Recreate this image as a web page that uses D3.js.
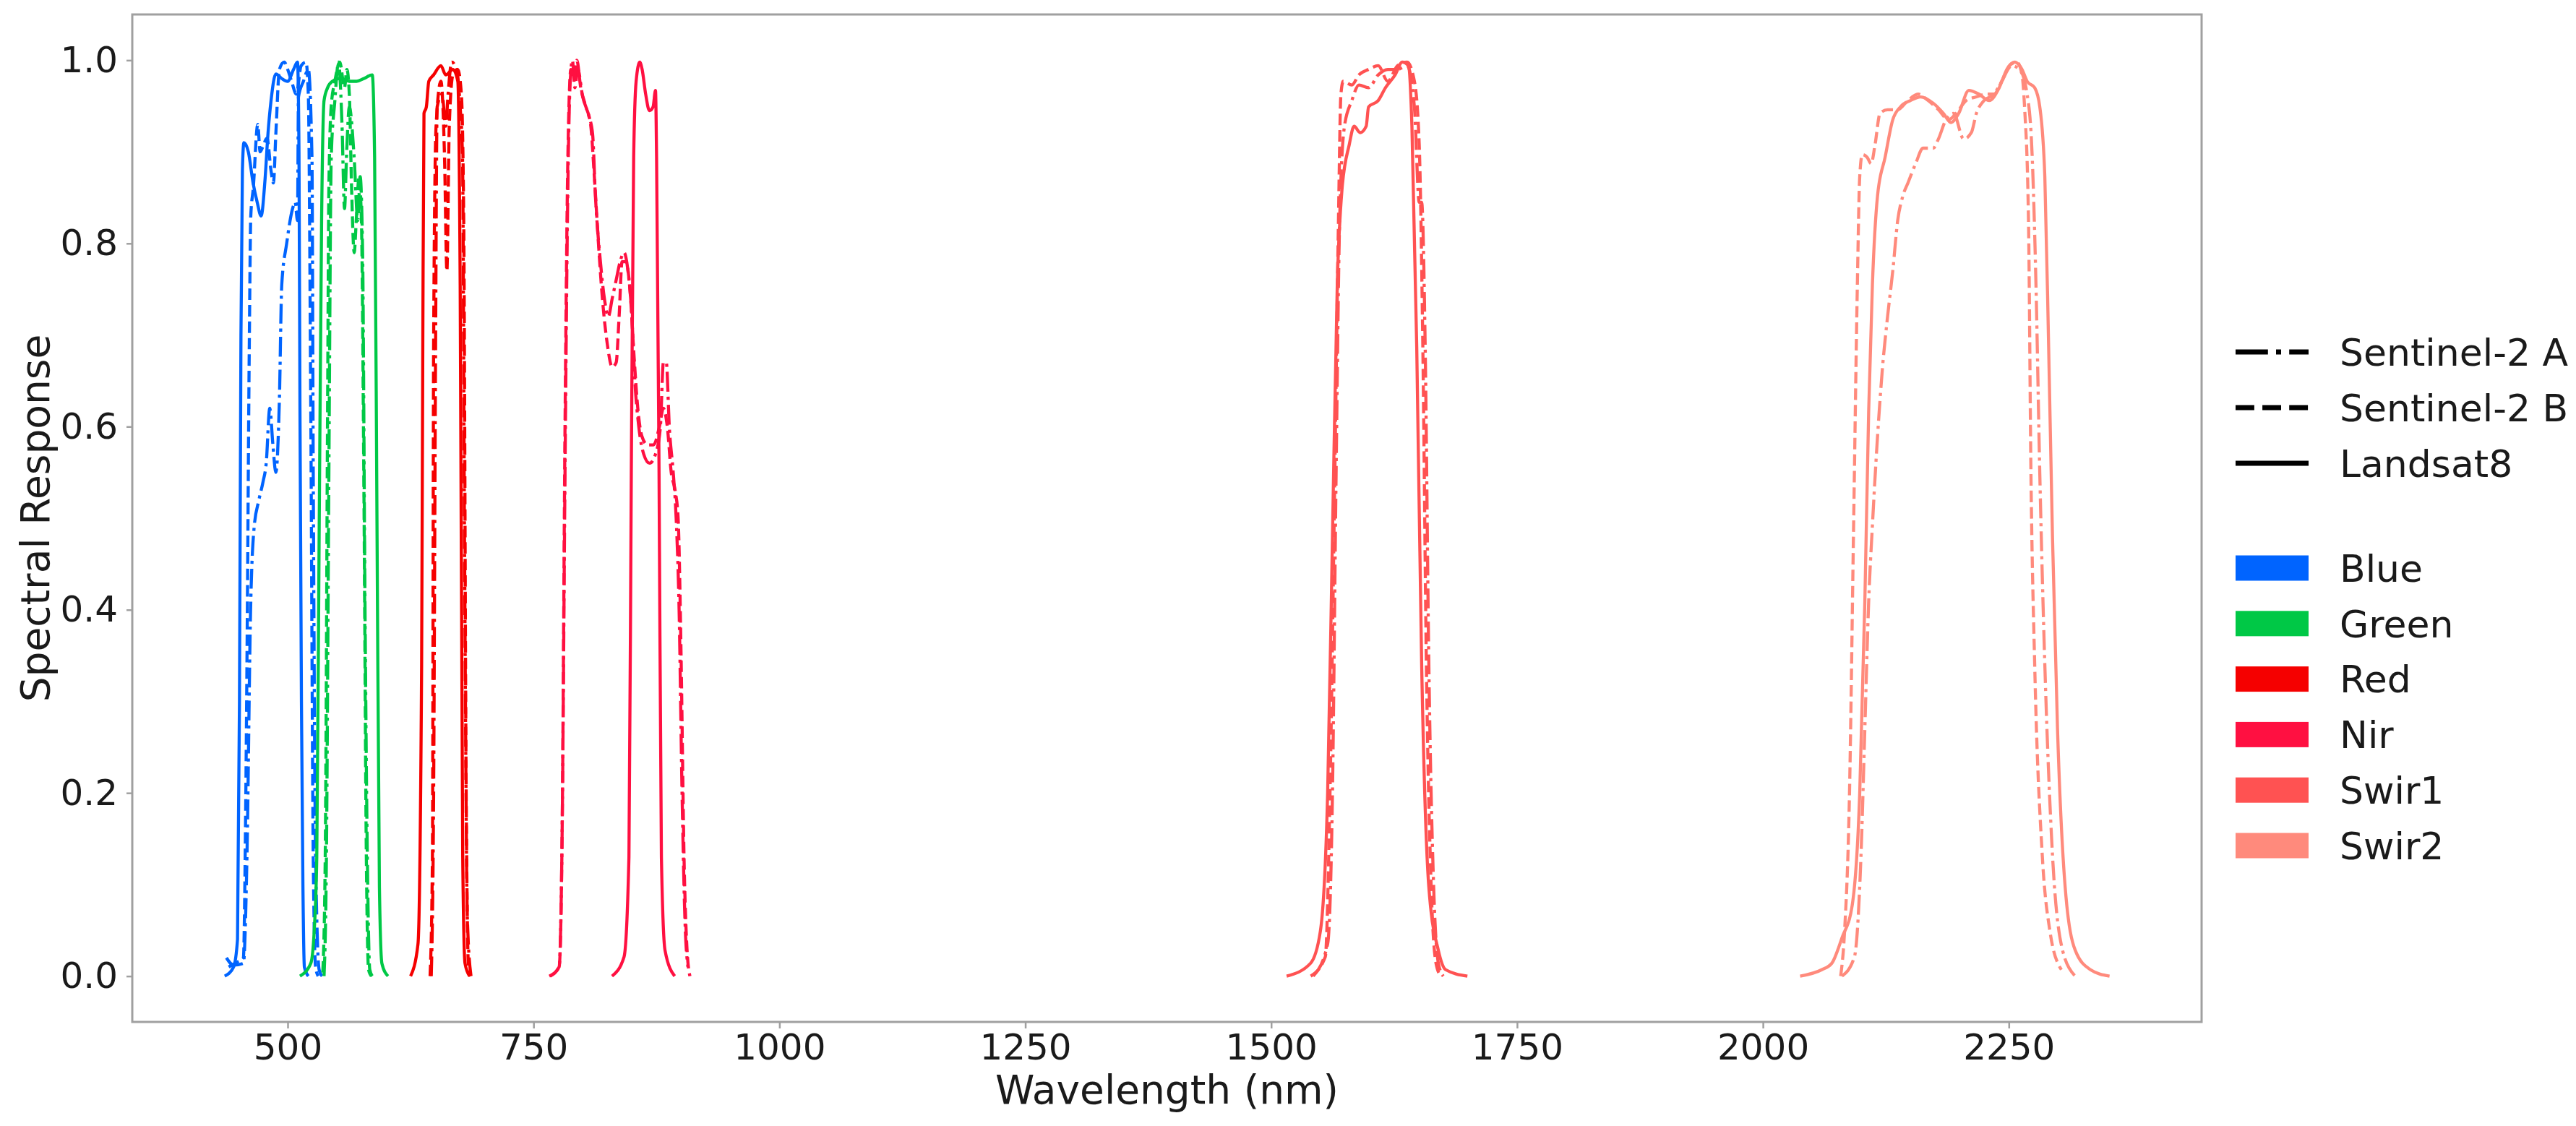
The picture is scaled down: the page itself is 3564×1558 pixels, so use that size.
<!DOCTYPE html>
<html>
<head>
<meta charset="utf-8">
<script src="https://cdn.jsdelivr.net/npm/d3@7/dist/d3.min.js"></script>
<style>
  html, body { margin: 0; padding: 0; background: #ffffff; }
  svg { display: block; }
</style>
</head>
<body>
<div id="chart"></div>
<script>
// ---------------- DATA (wavelength nm, response) ----------------
const bands = ["Blue", "Green", "Red", "Nir", "Swir1", "Swir2"];
const bandColors = ["#0064ff", "#00c846", "#f50000", "#ff1041", "#ff5252", "#ff8a7c"];
const sensors = ["Sentinel-2 A", "Sentinel-2 B", "Landsat8"];
const xTicks = [500, 750, 1000, 1250, 1500, 1750, 2000, 2250];
const yTicks = [0.0, 0.2, 0.4, 0.6, 0.8, 1.0];

// Blue
const blueS2A = [[437.7,0.02],[445,0.012],[455,0.014],[458.6,0.13],[462.2,0.395],[465.9,0.49],[470.8,0.52],[475,0.54],[478.2,0.56],[481.8,0.62],[485,0.58],[488,0.55],[491.6,0.63],[494,0.755],[499,0.8],[505,0.838],[507.6,0.845],[510,0.825],[511,0.96],[516,0.977],[521,0.99],[524.7,0.894],[526,0.55],[528.4,0.13],[532,0.007],[535,0]];
const blueS2B = [[440,0.01],[448,0.015],[455,0.02],[457,0.15],[458.6,0.34],[461,0.69],[462.5,0.83],[465,0.86],[469.6,0.93],[472,0.9],[474.5,0.905],[479,0.915],[483,0.88],[485.5,0.866],[488,0.92],[491.6,0.99],[496.5,0.998],[500,0.99],[504,0.977],[508.8,0.963],[513.7,0.994],[518.6,0.998],[521,0.963],[523.5,0.62],[526,0.13],[528.4,0.01],[531,0]];
const blueL8  = [[436,0],[445,0.01],[449,0.04],[451,0.3],[452.5,0.7],[454,0.88],[455.5,0.91],[460,0.9],[465,0.865],[469,0.845],[473,0.83],[477,0.87],[480,0.92],[483,0.955],[488,0.985],[494,0.98],[500,0.977],[506,0.99],[510,0.998],[511.5,0.9],[512.5,0.62],[514,0.3],[515.5,0.1],[517,0.01],[521,0]];
// Green
const greenS2A = [[537,0],[539.4,0.13],[541.9,0.55],[544.3,0.894],[548,0.956],[551.7,0.998],[555.3,0.928],[557.8,0.838],[560,0.9],[562.7,0.949],[567.6,0.894],[571.3,0.825],[573.7,0.873],[576.2,0.79],[578.6,0.41],[581,0.13],[583.5,0.007],[586,0]];
const greenS2B = [[535.7,0.004],[538.2,0.13],[540.6,0.62],[541.9,0.86],[544.3,0.95],[548,0.977],[553,0.998],[557.8,0.97],[560.2,0.99],[562.7,0.963],[565,0.86],[567.6,0.79],[570,0.83],[572.5,0.873],[575,0.825],[577.4,0.55],[580,0.13],[582.3,0.007],[585,0]];
const greenL8  = [[512.5,0],[523.5,0.014],[527,0.05],[529.6,0.13],[532,0.48],[534.5,0.825],[537,0.956],[540.6,0.97],[545.5,0.977],[553,0.98],[562.7,0.977],[570,0.977],[577.4,0.98],[586,0.984],[588.4,0.894],[590.9,0.48],[593.3,0.097],[595.8,0.014],[602,0]];
// Red
const redS2A = [[646,0],[648.4,0.2],[650.4,0.69],[652,0.949],[657,0.963],[660.7,0.928],[663.1,0.963],[666.8,0.998],[671.7,0.99],[675.4,0.949],[677.8,0.894],[679.8,0.48],[682.7,0.063],[686.4,0]];
const redS2B = [[644.8,0],[647.2,0.13],[648.4,0.69],[650.9,0.928],[655.8,0.977],[659.5,0.894],[661.9,0.77],[664.3,0.928],[668,0.984],[673,0.99],[676.6,0.963],[679,0.825],[681.5,0.2],[684,0.007],[686,0]];
const redL8  = [[625,0],[632.5,0.035],[636.2,0.34],[637.4,0.69],[638.6,0.942],[641,0.949],[643.5,0.977],[648.4,0.984],[655.8,0.994],[660.7,0.984],[668,0.99],[673,0.977],[675.4,0.755],[678,0.13],[680.3,0.014],[685,0]];
// Nir
const nirS2A = [[766,0],[776,0.01],[779,0.15],[782,0.55],[784.5,0.83],[787,0.97],[789.5,1.0],[792,0.97],[795,0.99],[800,0.96],[806,0.94],[810,0.92],[813,0.85],[818,0.78],[822,0.74],[826,0.72],[830,0.74],[834,0.76],[838,0.78],[842,0.79],[846,0.77],[850,0.72],[853,0.65],[857,0.6],[862,0.57],[868,0.56],[874,0.57],[879,0.6],[882,0.67],[885,0.67],[888,0.6],[892,0.55],[895,0.5],[898,0.4],[901,0.2],[904,0.06],[907,0.01]];
const nirS2B = [[767,0],[776,0.01],[779,0.15],[782,0.6],[785,0.9],[788,0.99],[791,0.98],[794,1.0],[798,0.97],[803,0.95],[808,0.93],[812,0.87],[816,0.8],[820,0.74],[825,0.69],[830,0.665],[834,0.67],[837,0.72],[840,0.78],[844,0.78],[848,0.75],[852,0.68],[856,0.62],[860,0.59],[866,0.58],[872,0.58],[878,0.6],[882,0.62],[886,0.6],[890,0.55],[894,0.53],[897,0.5],[900,0.35],[903,0.13],[906,0.03],[909,0]];
const nirL8  = [[829.8,0],[842,0.021],[847,0.13],[849.4,0.55],[851.8,0.894],[854.3,0.977],[858,0.998],[860.4,0.99],[864,0.963],[867.8,0.945],[871.5,0.949],[874,0.967],[875.1,0.894],[877.6,0.55],[880,0.13],[883.7,0.028],[893.5,0]];
// Swir1
const swir1S2A = [[1542.7,0],[1557.4,0.035],[1562.3,0.2],[1566,0.548],[1569.6,0.825],[1574.5,0.928],[1582,0.956],[1589.2,0.973],[1599,0.97],[1608.8,0.984],[1618.6,0.99],[1628.4,0.99],[1638.2,0.994],[1645.6,0.949],[1650.5,0.845],[1653,0.845],[1656.6,0.686],[1660.3,0.34],[1665.2,0.097],[1670,0.014],[1675,0]];
const swir1S2B = [[1540.2,0],[1555,0.021],[1559.8,0.2],[1564.7,0.548],[1568.4,0.825],[1570.9,0.963],[1573.3,0.977],[1582,0.973],[1589.2,0.984],[1599,0.99],[1608.8,0.994],[1618.6,0.977],[1628.4,0.994],[1638.2,0.998],[1645.6,0.977],[1650.5,0.908],[1654.2,0.686],[1657.8,0.34],[1662.7,0.097],[1667.6,0.014],[1672.5,0]];
const swir1L8  = [[1515.7,0],[1540,0.014],[1550,0.049],[1557.4,0.2],[1562.3,0.479],[1567.2,0.755],[1572,0.859],[1579.4,0.908],[1584.3,0.928],[1590.5,0.921],[1596.6,0.928],[1599,0.949],[1608.8,0.956],[1616.2,0.97],[1626,0.984],[1633.3,0.998],[1639.5,0.994],[1643.1,0.928],[1648,0.686],[1653,0.34],[1660.3,0.097],[1670,0.028],[1677.4,0.007],[1699.5,0]];
// Swir2
const swir2S2A = [[2080.4,0],[2093,0.021],[2099.7,0.132],[2103.6,0.27],[2107.5,0.409],[2111.3,0.492],[2116.5,0.589],[2121.6,0.665],[2126.8,0.721],[2132,0.77],[2137,0.825],[2142.3,0.852],[2147.4,0.866],[2155.2,0.887],[2162.9,0.904],[2173.2,0.904],[2178.4,0.914],[2186,0.935],[2193.8,0.942],[2204.1,0.914],[2211.9,0.921],[2217,0.942],[2224.8,0.956],[2235,0.963],[2242.8,0.977],[2253,0.994],[2260.9,0.99],[2268.6,0.963],[2273.8,0.894],[2277.6,0.755],[2281.5,0.548],[2286.6,0.34],[2294.4,0.132],[2304.7,0.028],[2317.6,0]];
const swir2S2B = [[2079,0],[2083,0.049],[2088,0.2],[2092,0.479],[2096,0.755],[2098.4,0.873],[2101,0.897],[2106,0.894],[2110,0.887],[2114,0.908],[2119,0.942],[2126.8,0.946],[2137,0.946],[2147.4,0.956],[2157.7,0.963],[2168,0.956],[2178.4,0.946],[2188.7,0.935],[2196.4,0.942],[2206.7,0.956],[2217,0.96],[2227.3,0.963],[2235,0.963],[2242.8,0.977],[2250.5,0.994],[2258.3,0.998],[2263.4,0.984],[2266,0.949],[2270,0.825],[2272.5,0.548],[2276.3,0.34],[2284,0.132],[2291.8,0.049],[2303.4,0.007]];
const swir2L8  = [[2037.8,0],[2059.8,0.007],[2070,0.014],[2080.4,0.042],[2090.7,0.077],[2098.4,0.2],[2103.6,0.409],[2107.5,0.617],[2111.3,0.755],[2116.5,0.852],[2124.2,0.894],[2132,0.935],[2139.7,0.949],[2150,0.956],[2160.3,0.96],[2173.2,0.953],[2183.5,0.942],[2191.2,0.932],[2199,0.942],[2209.3,0.967],[2219.6,0.963],[2230,0.956],[2240.2,0.97],[2248,0.99],[2255.7,0.998],[2263.4,0.99],[2268.6,0.977],[2276.3,0.97],[2281.5,0.949],[2286.6,0.873],[2290.5,0.686],[2294.4,0.479],[2299.5,0.27],[2307.3,0.097],[2317.6,0.028],[2333,0.007],[2352.4,0]];

// ---------------- TABLE built from arrays ----------------
const curveTable = [
  [blueS2A, blueS2B, blueL8],
  [greenS2A, greenS2B, greenL8],
  [redS2A, redS2B, redL8],
  [nirS2A, nirS2B, nirL8],
  [swir1S2A, swir1S2B, swir1L8],
  [swir2S2A, swir2S2B, swir2L8]
];
const series = [];
curveTable.forEach((row, bi) => row.forEach((pts, si) => series.push({band: bi, sensor: si, pts})));

// ---------------- LAYOUT ----------------
const W = 3564, H = 1558;
const plot = {left: 183, right: 3046, top: 20, bottom: 1414};
const FONT = "'DejaVu Sans', 'Liberation Sans', sans-serif";

const x = d3.scaleLinear().domain([342, 2446]).range([plot.left, plot.right]);
const y = d3.scaleLinear().domain([-0.05, 1.05]).range([plot.bottom, plot.top]);

const plotLW = 4.3;
const dashFor = (si, lw) => si === 0 ? [6.4*lw, 1.6*lw, 1*lw, 1.6*lw].join(",")
                         : si === 1 ? [3.7*lw, 1.6*lw].join(",") : null;

const svg = d3.select("#chart").append("svg")
  .attr("width", W).attr("height", H)
  .style("background", "#ffffff");

svg.append("defs").append("clipPath").attr("id", "clip")
  .append("rect").attr("x", plot.left).attr("y", plot.top)
  .attr("width", plot.right - plot.left).attr("height", plot.bottom - plot.top);

// Axes
const xAxis = d3.axisBottom(x).tickValues(xTicks).tickFormat(d3.format("d"))
  .tickSize(9).tickSizeOuter(0).tickPadding(7);
const yAxis = d3.axisLeft(y).tickValues(yTicks).tickFormat(d3.format(".1f"))
  .tickSize(8).tickSizeOuter(0).tickPadding(12);

const gx = svg.append("g").attr("transform", `translate(0,${plot.bottom})`).call(xAxis);
const gy = svg.append("g").attr("transform", `translate(${plot.left},0)`).call(yAxis);
[gx, gy].forEach(g => {
  g.select(".domain").remove();
  g.selectAll(".tick line").attr("stroke", "#a0a0a0").attr("stroke-width", 2.5);
  g.selectAll(".tick text").attr("fill", "#1a1a1a")
    .style("font-family", FONT).style("font-size", "50px");
});

// Lines
const line = d3.line().x(d => x(d[0])).y(d => y(d[1])).curve(d3.curveMonotoneX);
svg.append("g").attr("clip-path", "url(#clip)")
  .selectAll("path").data(series).join("path")
  .attr("d", d => line(d.pts))
  .attr("fill", "none")
  .attr("stroke", d => bandColors[d.band])
  .attr("stroke-width", plotLW)
  .attr("stroke-linejoin", "round")
  .attr("stroke-dasharray", d => dashFor(d.sensor, plotLW));

// Frame
svg.append("rect")
  .attr("x", plot.left).attr("y", plot.top)
  .attr("width", plot.right - plot.left).attr("height", plot.bottom - plot.top)
  .attr("fill", "none").attr("stroke", "#a0a0a0").attr("stroke-width", 3);

// Axis labels
svg.append("text")
  .attr("x", (plot.left + plot.right) / 2).attr("y", 1527)
  .attr("text-anchor", "middle").attr("fill", "#1a1a1a")
  .style("font-family", FONT).style("font-size", "55px")
  .text("Wavelength (nm)");
svg.append("text")
  .attr("transform", `translate(68,${(plot.top + plot.bottom) / 2}) rotate(-90)`)
  .attr("text-anchor", "middle").attr("fill", "#1a1a1a")
  .style("font-family", FONT).style("font-size", "55px")
  .text("Spectral Response");

// Legend
const leg = svg.append("g");
const legX0 = 3093, legX1 = 3194, legTextX = 3237;
const legLW = 7;
sensors.forEach((s, i) => {
  const cy = 487 + i * 77;
  leg.append("line").attr("x1", legX0).attr("x2", legX1).attr("y1", cy).attr("y2", cy)
    .attr("stroke", "#000").attr("stroke-width", legLW)
    .attr("stroke-dasharray", dashFor(i, legLW));
  leg.append("text").attr("x", legTextX).attr("y", cy).attr("dy", "0.36em")
    .attr("fill", "#1a1a1a").style("font-family", FONT).style("font-size", "52px")
    .text(s);
});
bands.forEach((b, i) => {
  const cy = 786 + i * 76.8;
  leg.append("rect").attr("x", legX0).attr("y", cy - 17.5).attr("width", legX1 - legX0).attr("height", 35)
    .attr("fill", bandColors[i]);
  leg.append("text").attr("x", legTextX).attr("y", cy).attr("dy", "0.36em")
    .attr("fill", "#1a1a1a").style("font-family", FONT).style("font-size", "52px")
    .text(b);
});
</script>
</body>
</html>
